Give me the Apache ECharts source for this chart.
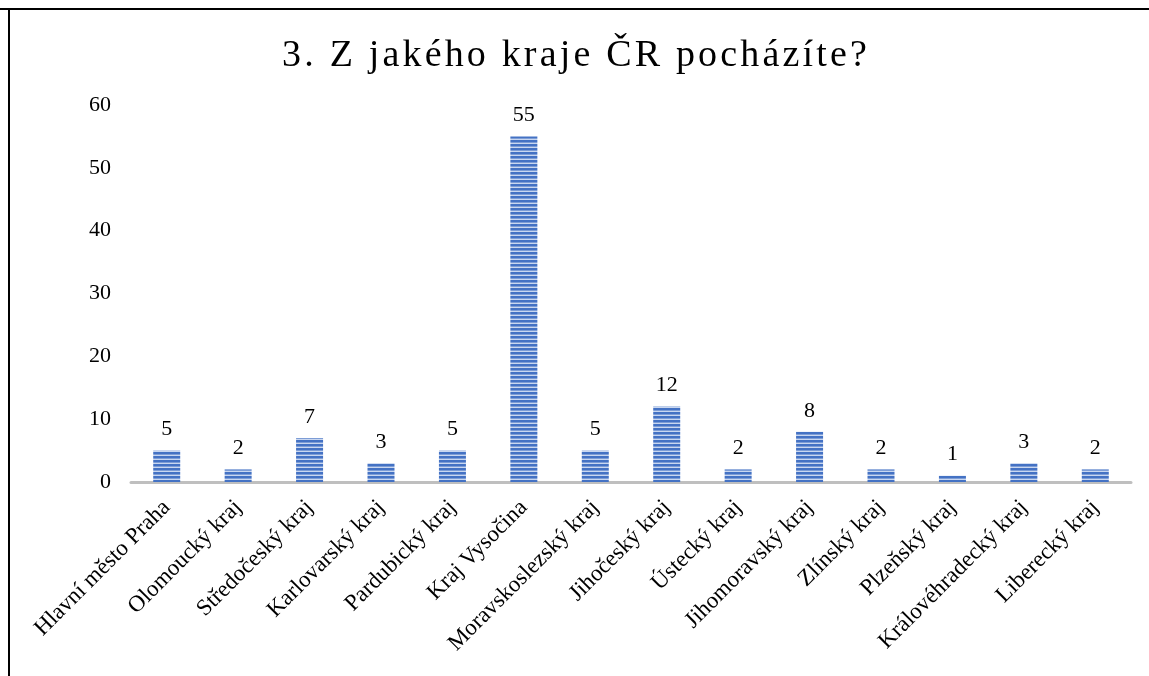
<!DOCTYPE html>
<html>
<head>
<meta charset="utf-8">
<script src="https://cdn.jsdelivr.net/npm/echarts@6/dist/echarts.min.js"></script>
<style>
  html, body { margin: 0; padding: 0; background: #fff; }
  #chart { width: 1149px; height: 676px; }
</style>
</head>
<body>
<div id="chart"></div>
<script>
var titleText = '3. Z jakého kraje ČR pocházíte?';
var regions = ['Hlavní město Praha', 'Olomoucký kraj', 'Středočeský kraj', 'Karlovarský kraj',
    'Pardubický kraj', 'Kraj Vysočina', 'Moravskoslezský kraj', 'Jihočeský kraj', 'Ústecký kraj',
    'Jihomoravský kraj', 'Zlínský kraj', 'Plzeňský kraj', 'Královéhradecký kraj', 'Liberecký kraj'];
var counts = [5, 2, 7, 3, 5, 55, 5, 12, 2, 8, 2, 1, 3, 2];
var yTicks = [0, 10, 20, 30, 40, 50, 60];

// striped fill like the Office pattern
function stripes() {
    var c = document.createElement('canvas');
    c.width = 4; c.height = 4;
    var ctx = c.getContext('2d');
    ctx.fillStyle = '#4472c4';
    ctx.fillRect(0, 0, 4, 2);
    ctx.fillStyle = '#7d9dd6';
    ctx.fillRect(0, 2, 4, 1);
    ctx.fillStyle = '#c9d7f0';
    ctx.fillRect(0, 3, 4, 1);
    return c;
}

var chart = echarts.init(document.getElementById('chart'));
var serif = '"Liberation Serif", "Times New Roman", serif';

chart.setOption({
    animation: false,
    title: {
        text: titleText.split('').join('\u200A'),
        left: 'center',
        top: 32,
        textStyle: { fontFamily: serif, fontSize: 38, fontWeight: 'normal', color: '#000' }
    },
    graphic: [
        { type: 'line', shape: { x1: 0, y1: 9, x2: 1149, y2: 9 }, style: { stroke: '#000', lineWidth: 2 } },
        { type: 'line', shape: { x1: 9, y1: 9, x2: 9, y2: 676 }, style: { stroke: '#000', lineWidth: 2 } }
    ],
    grid: { left: 131, right: 18, top: 105, bottom: 194, containLabel: false },
    xAxis: {
        type: 'category',
        data: regions,
        axisLine: { lineStyle: { color: '#bfbfbf', width: 3 } },
        axisTick: { show: false },
        axisLabel: { rotate: 45, interval: 0, margin: 22, fontFamily: serif, fontSize: 23, color: '#000' }
    },
    yAxis: {
        type: 'value',
        min: yTicks[0],
        max: yTicks[yTicks.length - 1],
        interval: 10,
        splitLine: { show: false },
        axisLine: { show: false },
        axisLabel: { margin: 20, fontFamily: serif, fontSize: 22, color: '#000' }
    },
    series: [{
        type: 'bar',
        data: counts,
        barWidth: 27,
        itemStyle: { color: { image: stripes(), repeat: 'repeat' } },
        label: { show: true, position: 'top', distance: 10, fontFamily: serif, fontSize: 22, color: '#000' }
    }]
});
</script>
</body>
</html>
